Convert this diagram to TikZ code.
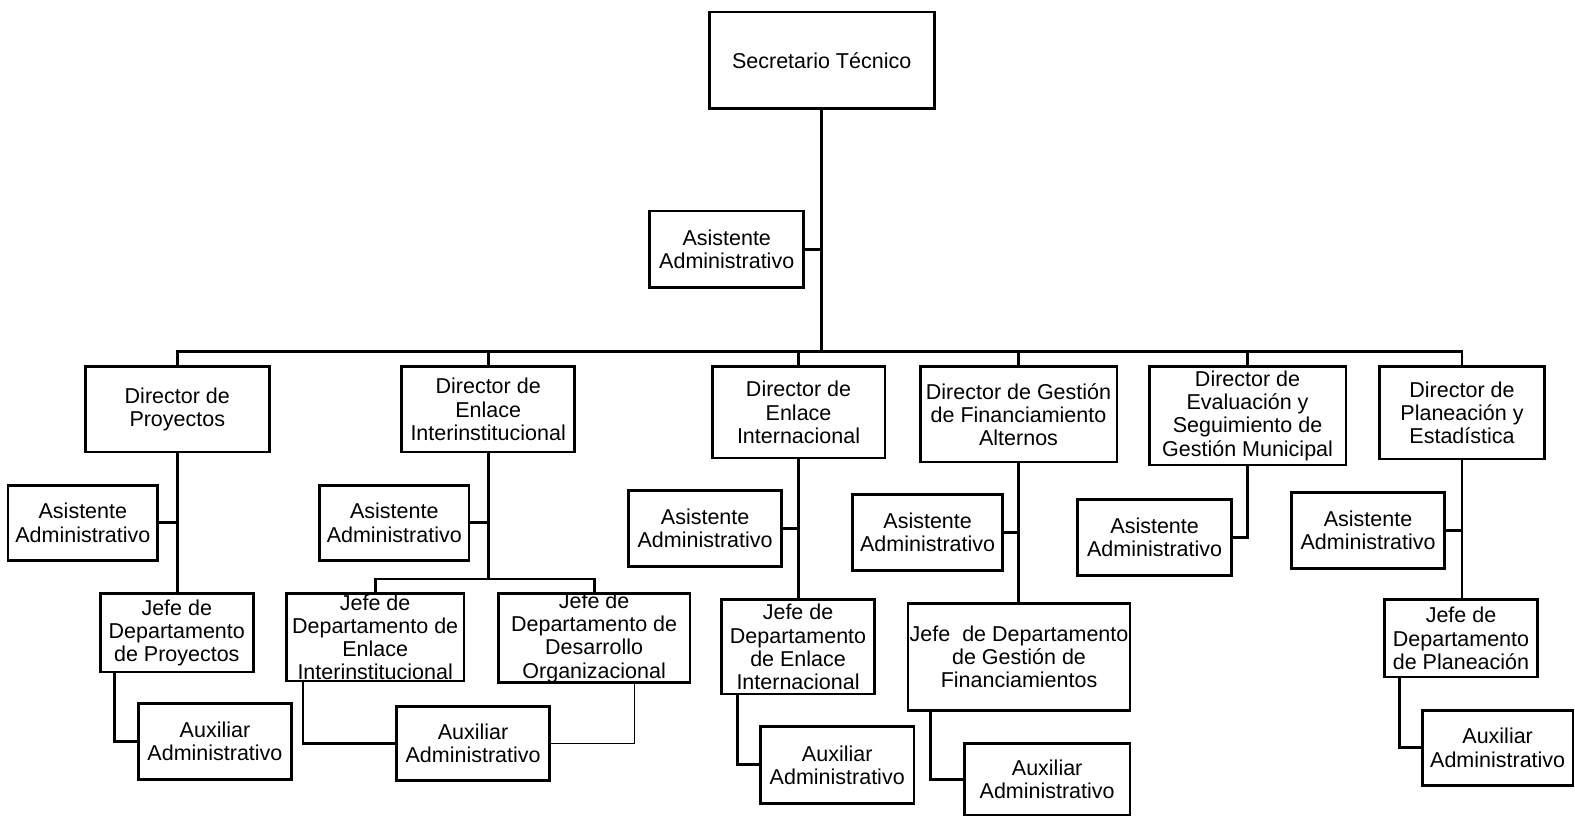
\documentclass[tikz,border=0pt]{standalone}
\usepackage{fontspec}
\setmainfont{Liberation Sans}
\tikzset{
  box/.style={draw, line width=1.4pt, inner sep=0pt, align=center, font=\fontsize{10.7}{11.5}\selectfont},
  link/.style={line width=1.4pt},
  thinlink/.style={line width=0.5pt},
}
\newcommand\bx[6]{\node[box, minimum width={(#4-#2)*0.5pt}, minimum height={(#5-#3)*0.5pt}] (#1) at ({(#2+#4)/2},{-(#3+#5)/2}) {#6};}
\begin{document}
\begin{tikzpicture}[x=0.5pt,y=0.5pt]
\useasboundingbox (0,0) rectangle (1568,-812);
% top
\bx{st}{706}{12}{930}{108}{Secretario Técnico}
\bx{a0}{647}{210}{800}{286}{Asistente\\Administrativo}
\coordinate (bar) at (818,-350);
% directors
\bx{d1}{85}{365}{268}{450}{Director de\\Proyectos}
\bx{d2}{400}{365}{572}{450}{Director de\\Enlace\\Interinstitucional}
\bx{d3}{709}{365}{881}{456}{Director de\\Enlace\\Internacional}
\bx{d4}{916}{365}{1112}{460}{Director de Gestión\\de Financiamiento\\Alternos}
\bx{d5}{1144}{365}{1340}{463}{Director de\\Evaluación y\\Seguimiento de\\Gestión Municipal}
\bx{d6}{1373}{365}{1538}{457}{Director de\\Planeación y\\Estadística}
% column 1
\bx{a1}{8}{483}{157}{558}{Asistente\\Administrativo}
\bx{j1}{100}{591}{252}{669}{Jefe de\\Departamento\\de Proyectos}
\bx{x1}{138}{700}{290}{776}{Auxiliar\\Administrativo}
% column 2
\bx{a2}{318}{483}{467}{558}{Asistente\\Administrativo}
\bx{j2a}{285}{591}{462}{678}{Jefe de\\Departamento de\\Enlace\\Interinstitucional}
\bx{j2b}{496}{591}{687}{679}{Jefe de\\Departamento de\\Desarrollo\\Organizacional}
\bx{x2}{395}{703}{547}{777}{Auxiliar\\Administrativo}
\coordinate (c2) at ([yshift=-62.5pt]d2.south);
% column 3
\bx{a3}{626}{488}{778}{564}{Asistente\\Administrativo}
\bx{j3}{718}{597}{871}{691}{Jefe de\\Departamento\\de Enlace\\Internacional}
\bx{x3}{757}{723}{910}{800}{Auxiliar\\Administrativo}
% column 4
\bx{a4}{849}{492}{998}{568}{Asistente\\Administrativo}
\bx{j4}{904}{601}{1125}{707}{Jefe~~de Departamento\\de Gestión de\\Financiamientos}
\bx{x4}{960}{740}{1125}{812}{Auxiliar\\Administrativo}
% column 5
\bx{a5}{1073}{497}{1226}{573}{Asistente\\Administrativo}
% column 6
\bx{a6}{1286}{490}{1438}{566}{Asistente\\Administrativo}
\bx{j6}{1378}{597}{1531}{674}{Jefe de\\Departamento\\de Planeación}
\bx{x6}{1416}{707}{1566}{782}{Auxiliar\\Administrativo}
% connectors top
\draw[link] (st.south) -- (bar);
\draw[link] (a0.east) -- (a0.east -| st.south);
\draw[link] (d1.north) -- (d1.north |- bar) -- (d6.north |- bar) -- (d6.north);
\foreach \d in {d2,d3,d4,d5} \draw[link] (\d.north) -- (\d.north |- bar);
% column 1
\draw[link] (d1.south) -- (d1.south |- j1.north);
\draw[link] (a1.east) -- (a1.east -| d1.south);
\draw[link] ([xshift=7.5pt]j1.south west) |- (x1.west);
% column 2
\draw[link] (d2.south) -- (c2);
\draw[link] (a2.east) -- (a2.east -| d2.south);
\draw[link] (j2a.north) |- (c2) -| (j2b.north);
\draw[link] ([xshift=9pt]j2a.south west) |- (x2.west);
\draw[thinlink] (x2.east) -| ([xshift=20pt]j2b.south);
% column 3
\draw[link] (d3.south) -- (d3.south |- j3.north);
\draw[link] (a3.east) -- (a3.east -| d3.south);
\draw[link] ([xshift=9pt]j3.south west) |- (x3.west);
% column 4
\draw[link] (d4.south) -- (d4.south |- j4.north);
\draw[link] (a4.east) -- (a4.east -| d4.south);
\draw[link] ([xshift=12pt]j4.south west) |- (x4.west);
% column 5
\draw[link] (d5.south) |- (a5.east);
% column 6
\draw[link] (d6.south) -- (d6.south |- j6.north);
\draw[link] (a6.east) -- (a6.east -| d6.south);
\draw[link] ([xshift=8.5pt]j6.south west) |- (x6.west);
\end{tikzpicture}
\end{document}
